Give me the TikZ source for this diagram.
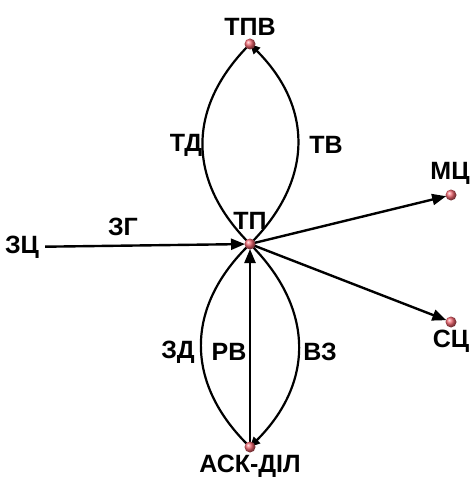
\documentclass[tikz,border=0pt]{standalone}
\usepackage{fontspec}
\setmainfont{Liberation Sans}
\usetikzlibrary{arrows.meta, positioning, backgrounds}

\definecolor{dotred}{RGB}{240,100,110}

\tikzset{
  dot/.style={circle, inner sep=0pt, minimum size=11pt, shading=ball, ball color=dotred},
  lbl/.style={inner sep=3pt, font=\fontsize{25}{27}\selectfont\bfseries},
  link/.style={line width=2.4pt, -{Triangle[length=14pt,width=11pt]}},
  arc/.style={line width=2.2pt, looseness=1.15},
  tip/.style={-{Triangle[length=10pt,width=9pt]}}
}

\begin{document}
\begin{tikzpicture}[x=1pt, y=-1pt]
  \useasboundingbox (0,0) rectangle (471,486);

  % points
  \node[dot] (tp)  at (250,244) {};
  \node[dot] (tpv) at (250,44)  {};
  \node[dot] (ask) at (250,447) {};
  \node[dot] (mc)  at (451,195) {};
  \node[dot] (sc)  at (451,322) {};

  % names
  \node[lbl, inner xsep=6pt] (zc) at (22,247) {ЗЦ};
  \node[lbl, above=0pt of tpv] (tpvname) {ТПВ};
  \node[lbl, above=6pt of tp] (tpname) {ТП};
  \node[lbl, below=-1pt of ask] (askname) {АСК-ДІЛ};
  \node[lbl, above=2pt of mc, xshift=-1pt] (mcname) {МЦ};
  \node[lbl, below=-1pt of sc] (scname) {СЦ};

  % edge labels
  \node[lbl] (td) at (186,145) {ТД};
  \node[lbl] (tv) at (326,145) {ТВ};
  \node[lbl] (zg) at (123,227) {ЗГ};
  \node[lbl] (zd) at (178,352) {ЗД};
  \node[lbl] (rv) at (229,352) {РВ};
  \node[lbl] (vz) at (320,352) {ВЗ};

  \begin{scope}[on background layer]
    \draw[link, shorten >=5pt] (zc) -- (tp.center);
    \draw[link, shorten >=5pt] (tp.center) -- (mc.center);
    \draw[link, shorten >=5pt] (tp.center) -- (sc.center);
    \draw[link, shorten >=5pt] (ask.center) -- (tp.center);
    \draw[arc] (tpv.center) to[bend right=45] (tp.center);
    \draw[arc, tip] (tp.center) to[bend right=45] (tpv.center);
    \draw[arc] (tp.center) to[bend right=46] (ask.center);
    \draw[arc, tip] (tp.center) to[bend left=45] (ask.center);
  \end{scope}
\end{tikzpicture}
\end{document}
